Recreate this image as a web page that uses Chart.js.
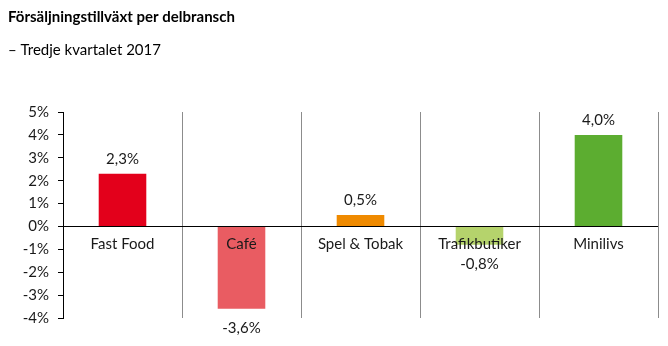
<!DOCTYPE html>
<html>
<head>
<meta charset="utf-8">
<script src="https://cdn.jsdelivr.net/npm/chart.js@4"></script>
<style>
  html, body { margin: 0; padding: 0; background: #fff; }
  #wrap { width: 668px; height: 346px; }
</style>
</head>
<body>
<div id="wrap"><canvas id="salesChart" width="668" height="346"></canvas></div>
<script>
const categories = ['Fast Food', 'Café', 'Spel & Tobak', 'Trafikbutiker', 'Minilivs'];
const growth = [2.3, -3.6, 0.5, -0.8, 4.0];
const barColors = ['#E3001B', '#E95C62', '#EF8A00', '#B5D36C', '#5CAD30'];
const yTicks = [-4, -3, -2, -1, 0, 1, 2, 3, 4, 5];

const FONT = 'Lato, "Liberation Sans", sans-serif';

// Swedish formatting: decimal comma
function pct(v, digits) {
    return v.toFixed(digits).replace('.', ',') + '%';
}

// Category names sit just under the zero line, value labels outside each bar
const barLabels = {
    id: 'barLabels',
    afterDatasetsDraw(chart) {
        const ctx = chart.ctx;
        const x = chart.scales.x;
        const y = chart.scales.y;
        const zero = y.getPixelForValue(0);
        const meta = chart.getDatasetMeta(0);
        ctx.save();
        ctx.font = '15px ' + FONT;
        ctx.fillStyle = '#1a1a1a';
        ctx.textAlign = 'center';
        ctx.textBaseline = 'middle';
        categories.forEach((c, i) => {
            ctx.fillText(c, x.getPixelForValue(i), zero + 18);
        });
        meta.data.forEach((bar, i) => {
            const v = growth[i];
            const ty = v >= 0 ? bar.y - 15 : bar.y + 19;
            ctx.fillText(pct(v, 1), bar.x, ty);
        });
        ctx.restore();
    }
};

new Chart(document.getElementById('salesChart'), {
    type: 'bar',
    data: {
        labels: categories,
        datasets: [{
            data: growth,
            backgroundColor: barColors,
            borderWidth: 0,
            barPercentage: 0.4,
            categoryPercentage: 1.0
        }]
    },
    options: {
        responsive: false,
        animation: false,
        layout: { padding: { left: 8, right: 10, top: 0, bottom: 28 } },
        plugins: {
            legend: { display: false },
            tooltip: { enabled: false },
            title: {
                display: true,
                text: 'Försäljningstillväxt per delbransch',
                align: 'start',
                color: '#000',
                font: { family: FONT, size: 15, weight: 'bold' },
                padding: { top: 8, bottom: 0 }
            },
            subtitle: {
                display: true,
                text: '– Tredje kvartalet 2017',
                align: 'start',
                color: '#000',
                font: { family: FONT, size: 15 },
                padding: { top: 15, bottom: 53 }
            }
        },
        scales: {
            x: {
                ticks: { display: false },
                border: { display: false },
                grid: {
                    offset: true,
                    color: '#8c8c8c',
                    lineWidth: 1,
                    drawTicks: false
                }
            },
            y: {
                min: -4,
                max: 5,
                afterBuildTicks(scale) {
                    scale.ticks = yTicks.map(v => ({ value: v }));
                },
                afterFit(scale) {
                    scale.width = 55;
                },
                ticks: {
                    padding: 9,
                    color: '#1a1a1a',
                    font: { family: FONT, size: 15 },
                    callback: v => v + '%'
                },
                border: { display: true, color: '#000', width: 1 },
                grid: {
                    drawTicks: true,
                    tickLength: 5,
                    tickColor: '#000',
                    color: c => c.tick && c.tick.value === 0 ? '#000' : 'rgba(0,0,0,0)'
                }
            }
        }
    },
    plugins: [barLabels]
});
</script>
</body>
</html>
